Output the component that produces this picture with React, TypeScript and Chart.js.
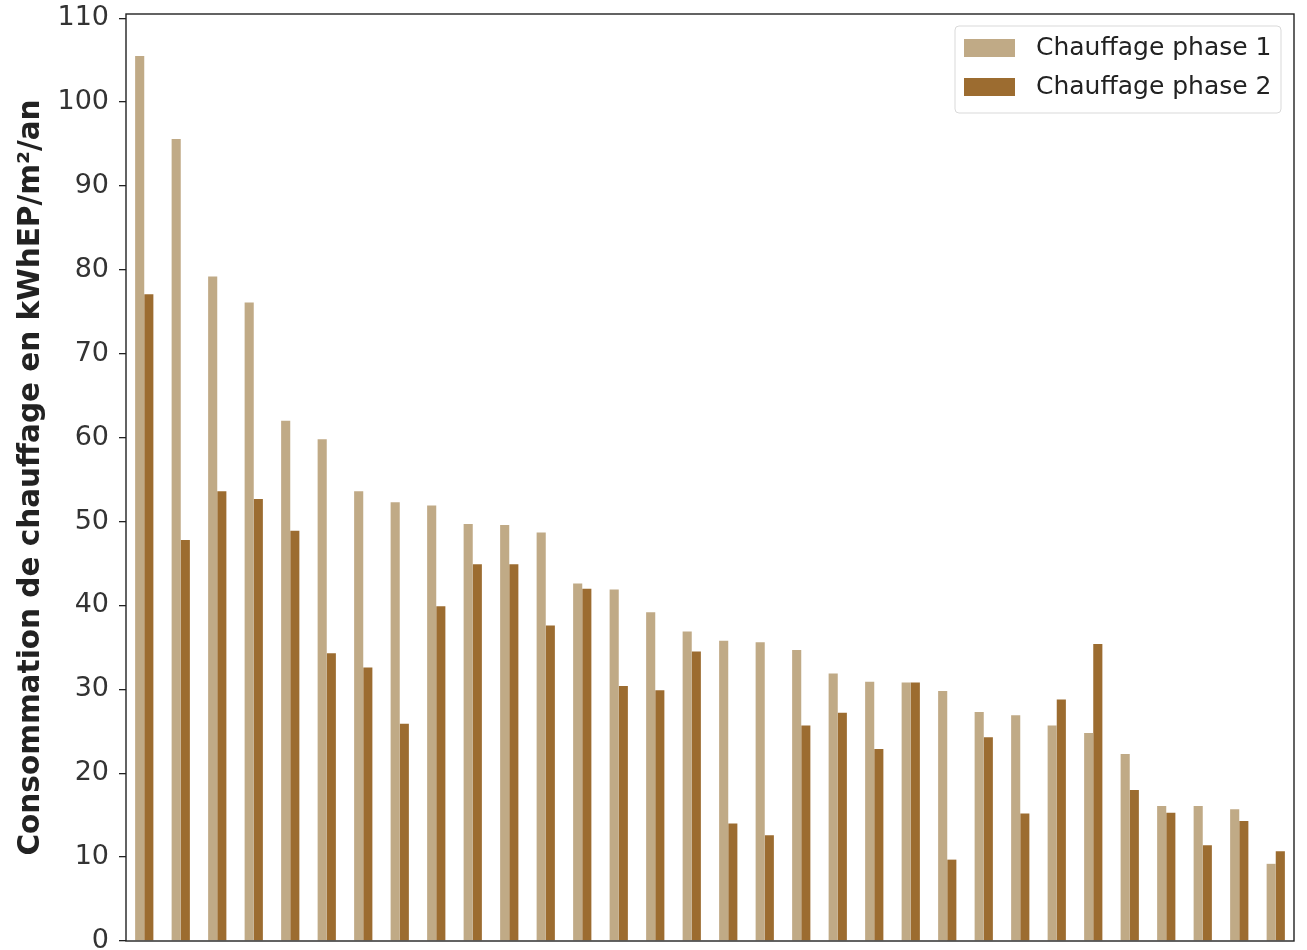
import React, { useEffect, useRef } from "react";
import { Chart, registerables } from "chart.js";

Chart.register(...registerables);

const categories = [
  "1","2","3","4","5","6","7","8","9","10","11","12","13","14","15","16",
  "17","18","19","20","21","22","23","24","25","26","27","28","29","30","31","32",
];
const phase1 = [
  105.5, 95.6, 79.2, 76.1, 62.0, 59.8, 53.6, 52.3, 51.9, 49.7, 49.6, 48.7, 42.6, 41.9, 39.2, 36.9,
  35.8, 35.6, 34.7, 31.9, 30.9, 30.8, 29.8, 27.3, 26.9, 25.7, 24.8, 22.3, 16.1, 16.1, 15.7, 9.2,
];
const phase2 = [
  77.1, 47.8, 53.6, 52.7, 48.9, 34.3, 32.6, 25.9, 39.9, 44.9, 44.9, 37.6, 42.0, 30.4, 29.9, 34.5,
  14.0, 12.6, 25.7, 27.2, 22.9, 30.8, 9.7, 24.3, 15.2, 28.8, 35.4, 18.0, 15.3, 11.4, 14.3, 10.7,
];
const seriesNames = ["Chauffage phase 1", "Chauffage phase 2"];
const seriesColors = ["#C0AA86", "#9C6C30"];
const yTitle = "Consommation de chauffage en kWhEP/m²/an";

const FONT = "'DejaVu Sans', sans-serif";

const framePlugin = {
  id: "frame",
  afterDatasetsDraw(chart: any) {
    const { ctx, chartArea } = chart;
    ctx.save();
    ctx.strokeStyle = "#222";
    ctx.lineWidth = 1.4;
    ctx.strokeRect(chartArea.left, chartArea.top, chartArea.right - chartArea.left, chartArea.bottom - chartArea.top);
    ctx.restore();
  },
};

const legendPlugin = {
  id: "innerLegend",
  afterDraw(chart: any) {
    const { ctx } = chart;
    const x = 955, y = 26, w = 326, h = 87, r = 4;
    ctx.save();
    ctx.beginPath();
    ctx.moveTo(x + r, y);
    ctx.lineTo(x + w - r, y);
    ctx.quadraticCurveTo(x + w, y, x + w, y + r);
    ctx.lineTo(x + w, y + h - r);
    ctx.quadraticCurveTo(x + w, y + h, x + w - r, y + h);
    ctx.lineTo(x + r, y + h);
    ctx.quadraticCurveTo(x, y + h, x, y + h - r);
    ctx.lineTo(x, y + r);
    ctx.quadraticCurveTo(x, y, x + r, y);
    ctx.closePath();
    ctx.fillStyle = "rgba(255,255,255,0.8)";
    ctx.fill();
    ctx.strokeStyle = "#d9d9d9";
    ctx.lineWidth = 1;
    ctx.stroke();
    ctx.font = `25px ${FONT}`;
    ctx.textBaseline = "middle";
    seriesNames.forEach((name, i) => {
      const sy = 39 + i * 39;
      ctx.fillStyle = seriesColors[i];
      ctx.fillRect(964, sy, 51, 18);
      ctx.fillStyle = "#222";
      ctx.fillText(name, 1036, sy + 9);
    });
    ctx.restore();
  },
};

export default function App() {
  const ref = useRef<HTMLCanvasElement>(null);
  useEffect(() => {
    document.body.style.margin = "0";
    const chart = new Chart(ref.current!, {
      type: "bar",
      data: {
        labels: categories,
        datasets: [
          { label: seriesNames[0], data: phase1, backgroundColor: seriesColors[0], borderWidth: 0 },
          { label: seriesNames[1], data: phase2, backgroundColor: seriesColors[1], borderWidth: 0 },
        ],
      },
      options: {
        animation: false,
        responsive: true,
        maintainAspectRatio: false,
        layout: { padding: { top: 14, right: 13, bottom: 9, left: 0 } },
        plugins: { legend: { display: false }, tooltip: { enabled: false } },
        datasets: { bar: { categoryPercentage: 0.5, barPercentage: 1.0 } },
        scales: {
          x: {
            offset: true,
            grid: { display: false },
            border: { display: false },
            ticks: { display: false },
            afterFit: (s: any) => { s.height = 0; s.paddingLeft = 0; s.paddingRight = 0; },
          },
          y: {
            min: 0,
            max: 110.5,
            afterFit: (s: any) => { s.width = 126; s.paddingTop = 0; s.paddingBottom = 0; },
            border: { display: false },
            grid: { drawOnChartArea: false, drawTicks: true, tickLength: 7, color: "#222", lineWidth: 1.3 },
            ticks: {
              stepSize: 10,
              includeBounds: false,
              padding: 10,
              color: "#333",
              font: { family: FONT, size: 27 },
            },
            title: {
              display: true,
              text: yTitle,
              color: "#222",
              font: { family: FONT, size: 29.5, weight: "bold" },
              padding: { top: 14, bottom: 4 },
            },
          },
        },
      },
      plugins: [framePlugin, legendPlugin],
    } as any);
    return () => chart.destroy();
  }, []);
  return (
    <div style={{ position: "absolute", left: 0, top: 0, width: 1307, height: 950 }}>
      <canvas ref={ref} />
    </div>
  );
}
